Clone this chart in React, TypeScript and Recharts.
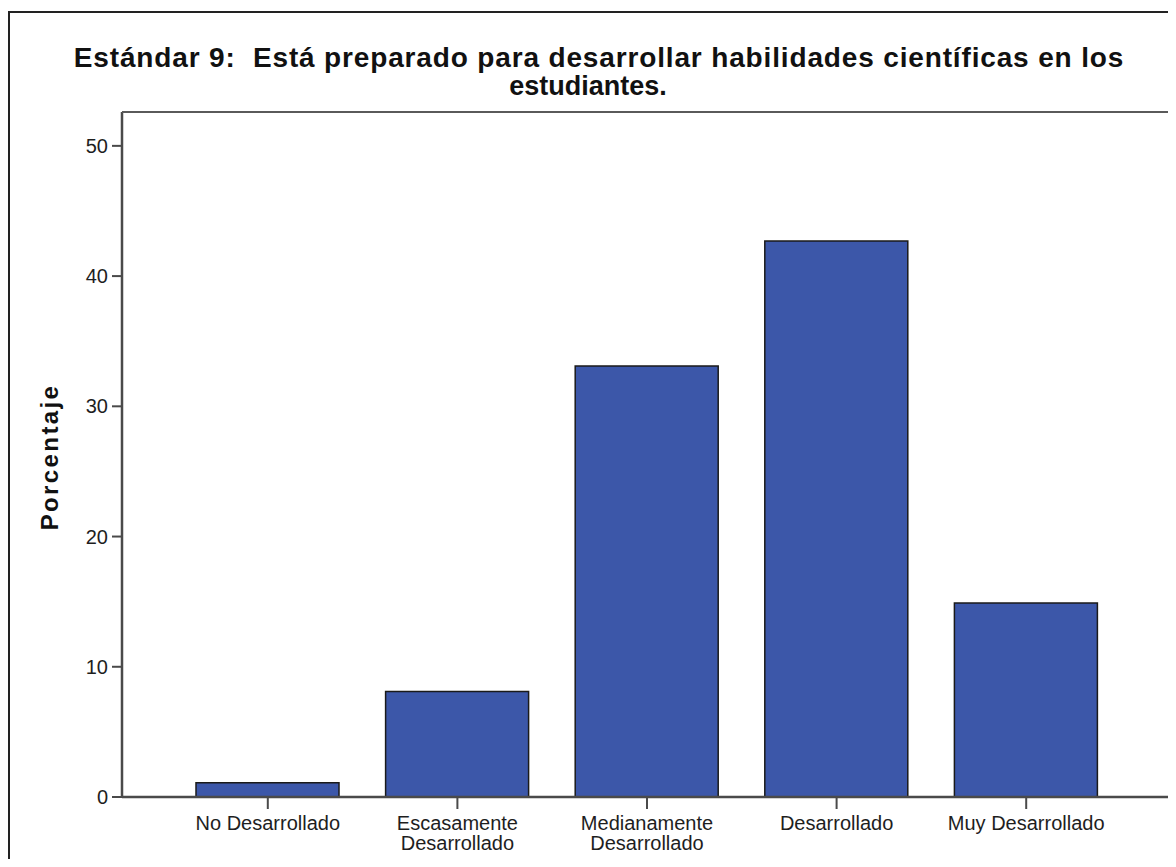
import React from 'react';
import { BarChart, Bar, XAxis, YAxis } from 'recharts';

const categories = [
  'No Desarrollado',
  'Escasamente Desarrollado',
  'Medianamente Desarrollado',
  'Desarrollado',
  'Muy Desarrollado',
];
const categoryLines = [
  ['No Desarrollado'],
  ['Escasamente', 'Desarrollado'],
  ['Medianamente', 'Desarrollado'],
  ['Desarrollado'],
  ['Muy Desarrollado'],
];
const percentages = [1.1, 8.1, 33.1, 42.7, 14.9];
const yTicks = [0, 10, 20, 30, 40, 50];
const titleLines = [
  'Estándar 9:  Está preparado para desarrollar habilidades científicas en los',
  'estudiantes.',
];
const yLabel = 'Porcentaje';

const data = categories.map((name, i) => ({ name, value: percentages[i] }));

const FONT = '"Liberation Sans", Arial, Helvetica, sans-serif';
const AXIS = '#4a4a4a';
const BAR_FILL = '#3c57a9';

const XTick = (props: any) => {
  const { x, y, payload } = props;
  const lines = categoryLines[payload.index] ?? [String(payload.value)];
  return (
    <text x={x} y={y} textAnchor="middle" fontSize={20} fill="#1e1e1e" fontFamily={FONT}>
      {lines.map((l, i) => (
        <tspan key={i} x={x} dy={i === 0 ? 19 : 20}>
          {l}
        </tspan>
      ))}
    </text>
  );
};

export default function App() {
  const W = 1168;
  const H = 851;
  const M = { top: 104, right: 4, left: 54, bottom: 7 };
  const Y_W = 60;
  const X_H = 55;
  const plotLeft = M.left + Y_W;
  const plotRight = W - M.right;
  const plotTop = M.top;
  const plotBottom = H - M.bottom - X_H;
  return (
    <div style={{ position: 'relative', width: W, height: H, overflow: 'hidden', background: '#fff' }}>
      <div
        style={{
          position: 'absolute',
          left: 0,
          top: 3,
          width: W + 20,
          height: H + 20,
          borderLeft: '2px solid #222',
          borderTop: '2px solid #222',
          boxSizing: 'border-box',
        }}
      />
      <div style={{ position: 'absolute', left: 0, top: 0 }}>
        <BarChart width={W} height={H} data={data} margin={M}>
          <XAxis
            dataKey="name"
            height={X_H}
            padding={{ left: 51, right: 51 }}
            axisLine={{ stroke: AXIS, strokeWidth: 2.5 }}
            tickLine={{ stroke: AXIS, strokeWidth: 2 }}
            tickSize={12}
            tickMargin={2}
            tick={<XTick />}
            interval={0}
          />
          <YAxis
            width={Y_W}
            domain={[0, 52.6]}
            ticks={yTicks}
            interval={0}
            axisLine={{ stroke: AXIS, strokeWidth: 2.5 }}
            tickLine={{ stroke: AXIS, strokeWidth: 2 }}
            tickSize={10}
            tickMargin={4}
            tick={{ fontSize: 20, fill: '#1e1e1e', fontFamily: FONT }}
          />
          <Bar
            dataKey="value"
            fill={BAR_FILL}
            stroke="#1a1a1a"
            strokeWidth={1.5}
            barSize={143}
            isAnimationActive={false}
          />
        </BarChart>
      </div>
      <svg
        width={W}
        height={H}
        style={{ position: 'absolute', left: 0, top: 0, pointerEvents: 'none' }}
      >
        <polyline
          points={`${plotLeft},${plotTop} ${plotRight},${plotTop} ${plotRight},${plotBottom}`}
          fill="none"
          stroke="#5a5a5a"
          strokeWidth={2}
        />
        <text
          x={591}
          y={59}
          textAnchor="middle"
          fontSize={28}
          fontWeight="bold"
          letterSpacing={0.85}
          fontFamily={FONT}
          fill="#111"
          style={{ whiteSpace: 'pre' }}
        >
          {titleLines[0]}
        </text>
        <text
          x={580}
          y={87}
          textAnchor="middle"
          fontSize={27}
          fontWeight="bold"
          letterSpacing={0}
          fontFamily={FONT}
          fill="#111"
          style={{ whiteSpace: 'pre' }}
        >
          {titleLines[1]}
        </text>
        <text
          x={50}
          y={449}
          textAnchor="middle"
          transform="rotate(-90 50 449)"
          fontSize={24}
          fontWeight="bold"
          letterSpacing={2.4}
          fontFamily={FONT}
          fill="#111"
        >
          {yLabel}
        </text>
      </svg>
    </div>
  );
}
